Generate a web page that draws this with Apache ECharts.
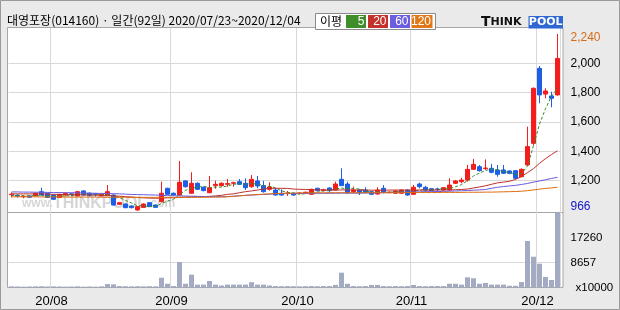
<!DOCTYPE html>
<html><head><meta charset="utf-8">
<script src="https://cdn.jsdelivr.net/npm/echarts@6/dist/echarts.min.js"></script>
<style>html,body{margin:0;padding:0;background:#eaeaea;}#c{width:620px;height:310px;}</style>
</head><body><div id="c"></div>
<script>
const titleText = '대영포장(014160) · 일간(92일) 2020/07/23~2020/12/04';
const dates = [
'2020/07/23','2020/07/24','2020/07/27','2020/07/28','2020/07/29','2020/07/30','2020/07/31',
'2020/08/03','2020/08/04','2020/08/05','2020/08/06','2020/08/07','2020/08/10','2020/08/11','2020/08/12','2020/08/13','2020/08/14',
'2020/08/18','2020/08/19','2020/08/20','2020/08/21','2020/08/24','2020/08/25','2020/08/26','2020/08/27','2020/08/28','2020/08/31',
'2020/09/01','2020/09/02','2020/09/03','2020/09/04','2020/09/07','2020/09/08','2020/09/09','2020/09/10','2020/09/11','2020/09/14',
'2020/09/15','2020/09/16','2020/09/17','2020/09/18','2020/09/21','2020/09/22','2020/09/23','2020/09/24','2020/09/25','2020/09/28','2020/09/29',
'2020/10/05','2020/10/06','2020/10/07','2020/10/08','2020/10/12','2020/10/13','2020/10/14','2020/10/15','2020/10/16','2020/10/19',
'2020/10/20','2020/10/21','2020/10/22','2020/10/23','2020/10/26','2020/10/27','2020/10/28','2020/10/29','2020/10/30',
'2020/11/02','2020/11/03','2020/11/04','2020/11/05','2020/11/06','2020/11/09','2020/11/10','2020/11/11','2020/11/12','2020/11/13',
'2020/11/16','2020/11/17','2020/11/18','2020/11/19','2020/11/20','2020/11/23','2020/11/24','2020/11/25','2020/11/26','2020/11/27','2020/11/30',
'2020/12/01','2020/12/02','2020/12/03','2020/12/04'];
const open = [1104,1100,1090,1096,1096,1125,1114,1102,1086,1102,1110,1096,1130,1114,1110,1096,1102,1102,1039,1041,1027,1000,1018,1050,1034,1057,1148,1114,1102,1198,1114,1182,
1155,1118,1166,1166,1175,1182,1193,1182,1159,1198,1166,1141,1136,1114,1112,1114,1112,1116,1107,1148,1134,1150,1136,1209,1177,1125,1136,1136,1125,1109,1148,1118,1114,
1114,1136,1107,1177,1155,1145,1143,1136,1136,1182,1193,1204,1277,1295,1282,1284,1273,1273,1266,1268,1227,1307,1454,1965,1790,1777,1784];
const close = [1108,1095,1093,1087,1114,1102,1086,1073,1107,1114,1107,1125,1102,1098,1107,1107,1125,1034,1050,1016,1016,1023,1041,1023,1018,1114,1107,1102,1189,1159,1182,1141,
1132,1152,1175,1182,1180,1186,1175,1152,1209,1164,1125,1157,1102,1102,1116,1102,1116,1121,1141,1132,1138,1132,1177,1166,1118,1136,1118,1120,1107,1136,1120,1122,1130,
1136,1102,1155,1159,1136,1132,1140,1152,1170,1198,1204,1277,1311,1268,1286,1257,1243,1250,1250,1216,1277,1432,1829,1784,1811,1761,2033];
const low = [1086,1085,1080,1084,1094,1100,1082,1068,1082,1098,1096,1093,1098,1093,1091,1093,1098,1030,1034,1012,1011,996,1014,1020,1014,1052,1102,1098,1098,1152,1110,1136,
1127,1114,1145,1159,1159,1159,1170,1136,1152,1148,1118,1132,1098,1098,1096,1098,1107,1111,1104,1127,1127,1118,1132,1164,1109,1114,1102,1114,1102,1105,1114,1114,1111,
1111,1098,1102,1148,1125,1127,1125,1132,1132,1177,1182,1193,1273,1261,1273,1250,1227,1245,1243,1209,1223,1300,1440,1727,1761,1700,1780];
const high = [1120,1108,1100,1100,1118,1152,1118,1106,1111,1118,1116,1130,1134,1120,1116,1111,1170,1107,1055,1045,1032,1027,1045,1054,1038,1193,1152,1120,1334,1204,1257,1189,
1160,1232,1200,1189,1211,1193,1211,1216,1239,1232,1198,1189,1148,1141,1130,1118,1120,1125,1145,1152,1145,1155,1193,1284,1193,1159,1141,1155,1130,1155,1170,1127,1134,
1140,1141,1170,1186,1164,1150,1152,1157,1216,1204,1220,1307,1348,1307,1345,1314,1307,1307,1270,1273,1284,1568,1835,1981,1829,1806,2199];
const volume = [400,350,300,350,400,450,350,400,350,300,350,400,300,350,300,400,1200,1100,500,450,400,450,400,450,400,3400,1300,500,8860,1300,4460,1000,
1000,2260,1000,700,1000,1000,1000,1000,1850,1000,1000,700,500,450,500,450,400,450,500,450,500,500,900,5150,1300,500,450,500,900,900,500,450,500,
450,500,900,500,450,500,500,500,1300,1300,1000,3540,3200,1300,1600,1000,1000,1000,600,600,1900,16170,10700,8280,3650,2600,26000];
const ma5 = [1100,1100,1098,1096,1099,1098,1096,1092,1096,1096,1097,1105,1111,1109,1108,1108,1108,1094,1085,1066,1048,1028,1029,1024,1024,1044,1061,1073,1106,1134,1148,1155,
1161,1153,1156,1156,1164,1175,1180,1175,1180,1177,1165,1161,1151,1130,1120,1116,1108,1111,1119,1122,1130,1133,1144,1149,1146,1146,1143,1132,1120,1123,1120,1121,1123,
1129,1122,1129,1136,1138,1137,1144,1144,1146,1158,1173,1200,1232,1252,1269,1280,1273,1261,1257,1243,1247,1300,1440,1585,1690,1775,1830];
const ma20 = [1110,1110,1110,1110,1110,1110,1108,1107,1106,1105,1104,1104,1103,1102,1101,1100,1099,1096,1094,1091,1088,1085,1083,1081,1080,1082,1083,1083,1086,1088,1090,1091,
1091,1093,1096,1100,1107,1110,1118,1125,1130,1136,1143,1148,1148,1148,1147,1143,1141,1140,1138,1137,1137,1136,1136,1137,1137,1136,1136,1136,1135,1135,1135,1136,1136,
1136,1136,1135,1136,1136,1136,1136,1137,1137,1138,1140,1143,1150,1157,1165,1175,1185,1190,1196,1208,1228,1255,1282,1318,1350,1378,1404];
const ma60 = [1123,1123,1122,1122,1121,1121,1120,1119,1119,1118,1118,1117,1116,1115,1114,1113,1112,1111,1110,1108,1106,1105,1104,1103,1102,1100,1098,1097,1096,1095,
1094,1093,1092,1091,1091,1091,1092,1094,1097,1100,1102,1104,1106,1108,1110,1111,1112,1112,1113,1113,1113,1114,1114,1114,1114,1115,1115,1115,1115,1116,
1116,1117,1118,1119,1120,1121,1122,1123,1124,1125,1125,1126,1127,1128,1130,1131,1133,1135,1137,1140,1148,1155,1160,1164,1168,1174,1181,1190,1198,1206,1215,1223];
const ma120 = [1090,1090,1090,1090,1090,1089,1089,1089,1089,1088,1088,1088,1088,1088,1088,1087,1087,1087,1087,1087,1086,1086,1086,1086,1086,1086,1086,1086,1086,1086,
1086,1086,1087,1087,1088,1088,1090,1093,1096,1100,1103,1105,1108,1110,1112,1113,1114,1115,1116,1116,1117,1117,1117,1118,1118,1118,1118,1118,1118,1118,
1118,1118,1118,1118,1118,1118,1119,1119,1119,1119,1119,1119,1120,1120,1120,1120,1121,1121,1121,1122,1122,1123,1124,1125,1126,1128,1132,1137,1142,1147,1151,1155];
const priceTicks = [1200,1400,1600,1800,2000];
const priceMin = 966, priceMax = 2240;
const volumeTicks = [8657,17260];
const volumeMax = 26250;
const volumeUnit = 'x10000';
const maNames = ['5','20','60','120'];
const maColors = ['#3a8b26','#c0302a','#6a5add','#dd6e0e'];
const legendColors = ['#3f8e2a','#c4302a','#6c5ce0','#e07818'];

const upColor = '#f41c1c', downColor = '#1c5fe6';
const isMonthStart = (i) => i > 0 && dates[i].slice(5,7) !== dates[i-1].slice(5,7);
const comma = (v) => String(v).replace(/\B(?=(\d{3})+(?!\d))/g, ',');
const priceAxisValues = [priceMin].concat(priceTicks, [priceMax]);
const volumeAxisValues = [0].concat(volumeTicks);
const numFont = 'Liberation Sans';

const chart = echarts.init(document.getElementById('c'), null, {renderer:'canvas'});
const maData = [ma5, ma20, ma60, ma120];

const legendItems = [];
const lx = [346, 368, 390, 411.5];
const lw = [20, 20, 20, 21];
maNames.forEach((n, k) => {
  legendItems.push({type:'rect', z:20, shape:{x:lx[k], y:15, width:lw[k], height:13}, style:{fill:legendColors[k]}});
  legendItems.push({type:'text', z:21, x:lx[k]+lw[k]-1.5, y:21.8, style:{text:n, fill:'#fff', font:'12px ' + numFont, align:'right', verticalAlign:'middle'}});
});

const option = {
  animation: false,
  title: {text: titleText, left: 7, top: 14, padding: 0,
    textStyle: {fontSize: 12, fontWeight: 'normal', fontFamily: '"Noto Sans CJK KR"', color: '#000'}},
  grid: [
    {left: 8.5, top: 28, width: 552, height: 187},
    {left: 8.5, top: 212, width: 552, height: 75.5}
  ],
  xAxis: [
    {type:'category', gridIndex:0, data: dates, boundaryGap: true,
      axisLine:{show:false}, axisTick:{show:false}, axisLabel:{show:false},
      splitLine:{show:true, interval:(i)=>isMonthStart(i), lineStyle:{color:'#d9d9d9', width:1}}},
    {type:'category', gridIndex:1, data: dates, boundaryGap: true,
      axisLine:{show:false}, axisTick:{show:false},
      axisLabel:{show:true, interval:(i)=>isMonthStart(i), formatter:(v)=>v.slice(2,7),
        margin: 7, fontSize: 13, fontFamily: numFont, color:'#000', padding:[0,4,0,0]},
      splitLine:{show:true, interval:(i)=>isMonthStart(i), lineStyle:{color:'#d9d9d9', width:1}}}
  ],
  yAxis: [
    {type:'value', gridIndex:0, position:'right', min: priceMin, max: priceMax, scale: true,
      axisLine:{show:false}, axisTick:{show:false, customValues: priceAxisValues},
      axisLabel:{customValues: priceAxisValues, margin: 10, fontSize: 12, fontFamily: numFont, color:'#000',
        formatter:(v)=> v === priceMax ? '{mx|' + comma(v) + '}' : (v === priceMin ? '{mn|' + comma(v) + '}' : comma(v)),
        rich:{
          mx:{color:'#d86a14', fontSize:12, fontFamily:numFont, padding:[20,0,0,0]},
          mn:{color:'#1414c8', fontSize:12, fontFamily:numFont, padding:[0,0,16,0]}
        }},
      splitLine:{show:true, showMinLine:false, showMaxLine:false, lineStyle:{color:'#d9d9d9', width:1}}},
    {type:'value', gridIndex:1, position:'right', min: 0, max: volumeMax,
      axisLine:{show:false}, axisTick:{show:false, customValues: volumeAxisValues},
      axisLabel:{customValues: volumeAxisValues, margin: 10, fontSize: 11.5, fontFamily: numFont, color:'#000',
        formatter:(v)=> v === 0 ? '{u|' + volumeUnit + '}' : String(v),
        rich:{u:{fontSize:11.5, fontFamily:numFont, color:'#000', padding:[0,0,0,5]}}},
      splitLine:{show:true, showMinLine:false, showMaxLine:false, lineStyle:{color:'#d9d9d9', width:1}}}
  ],
  series: [
    {type:'candlestick', name:'price', xAxisIndex:0, yAxisIndex:0, barWidth:5,
      data: dates.map((d,i)=>[open[i], close[i], low[i], high[i]]),
      itemStyle:{color:upColor, color0:downColor, borderColor:upColor, borderColor0:downColor, borderWidth:1}},
    ...maNames.map((n,k)=>({type:'line', name:n, xAxisIndex:0, yAxisIndex:0, data: maData[k], symbol:'none', z: 3,
      lineStyle:{color: maColors[k], width:1, type: k === 0 ? [3,2] : 'solid'}})),
    {type:'bar', name:'volume', xAxisIndex:1, yAxisIndex:1, data: volume, barWidth:5,
      itemStyle:{color:'#a3abc2'}}
  ],
  graphic: [
    {type:'rect', z:-20, shape:{x:0.5, y:0.5, width:619, height:309}, style:{fill:'#eaeaea', stroke:'#9a9a9a', lineWidth:1}},
    {type:'rect', z:-19, shape:{x:7.5, y:27.5, width:555.5, height:260}, style:{fill:'#ffffff', stroke:'#a6a6a6', lineWidth:1}},
    {type:'line', z:-1, shape:{x1:7.5, y1:212.5, x2:563, y2:212.5}, style:{stroke:'#a6a6a6', lineWidth:1}},
    {type:'text', z:1, x:22, y:204, style:{text:'{s|www.}{b|THINKPOOL}{s|.com}', verticalAlign:'middle',
      rich:{s:{fill:'#d6d6d6', font:'bold 12px Liberation Sans'}, b:{fill:'#d6d6d6', font:'bold 16px Liberation Sans'}}}},
    {type:'rect', z:20, shape:{x:315.5, y:13.5, width:120, height:16}, style:{fill:'#fff', stroke:'#8a8a8a', lineWidth:1}},
    {type:'text', z:21, x:320, y:21.8, style:{text:'이평', fill:'#000', font:'12px "Noto Sans CJK KR"', verticalAlign:'middle'}},
    ...legendItems,
    {type:'text', z:21, x:481, y:22.5, style:{text:'{a|T}{b|HINK}', verticalAlign:'middle',
      rich:{a:{fill:'#111', font:'bold 14px DejaVu Sans'}, b:{fill:'#111', font:'bold 11px DejaVu Sans'}}}},
    {type:'rect', z:20, shape:{x:528.5, y:16, width:34.5, height:12.5}, style:{fill:'#2f68d2'}},
    {type:'text', z:21, x:545.7, y:22.5, style:{text:'POOL', fill:'#fff', font:'bold 11px DejaVu Sans', align:'center', verticalAlign:'middle'}}
  ]
};
chart.setOption(option);
</script></body></html>
